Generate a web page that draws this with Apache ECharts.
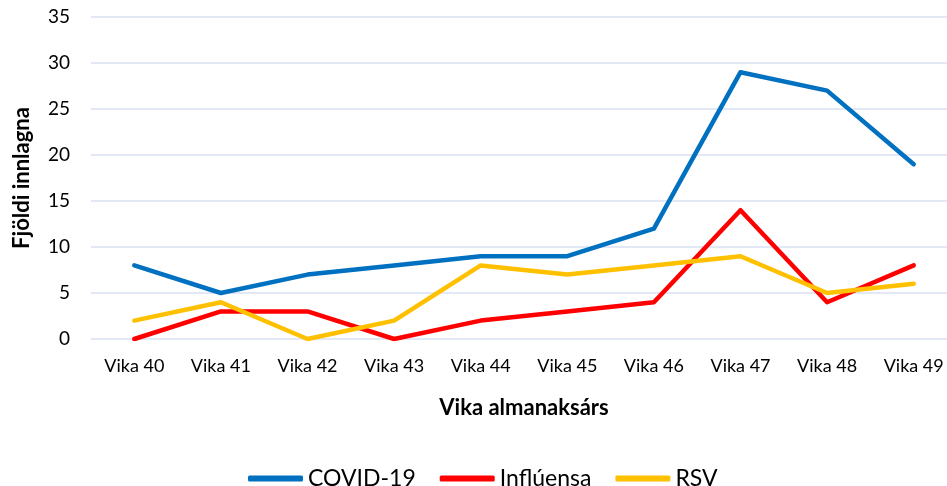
<!DOCTYPE html>
<html><head><meta charset="utf-8">
<script src="https://cdn.jsdelivr.net/npm/echarts@6/dist/echarts.min.js"></script>
<style>html,body{margin:0;padding:0;background:#fff;overflow:hidden;width:947px;height:486px}#c{width:957px;height:486px}</style>
</head><body><div id="c"></div>
<script>
var categories = ['Vika 40','Vika 41','Vika 42','Vika 43','Vika 44','Vika 45','Vika 46','Vika 47','Vika 48','Vika 49'];
var covid = [8,5,7,8,9,9,12,29,27,19];
var influensa = [0,3,3,0,2,3,4,14,4,8];
var rsv = [2,4,0,2,8,7,8,9,5,6];
var seriesNames = ['COVID-19','Inflúensa','RSV'];
var yTicks = {min:0, max:35, interval:5};

var font = 'Lato, "Open Sans", sans-serif';
var chart = echarts.init(document.getElementById('c'));
function mk(name, data, color){
  return {name:name, type:'line', data:data, showSymbol:false, symbol:'none',
    lineStyle:{color:color, width:4.5, cap:'round', join:'round'}, itemStyle:{color:color}, animation:false};
}
chart.setOption({
  animation:false,
  grid:{left:91, right:0, top:17, bottom:147, containLabel:false},
  legend:{top:462, left:243, itemWidth:55, itemHeight:6, itemGap:24, icon:'roundRect',
    textStyle:{fontFamily:font, fontSize:23, color:'#000'}, data:seriesNames},
  xAxis:{type:'category', data:categories, boundaryGap:true,
    axisLine:{show:false}, axisTick:{show:false},
    axisLabel:{fontFamily:font, fontSize:18, color:'#000', margin:18},
    name:'Vika almanaksárs', nameLocation:'middle', nameGap:58,
    nameTextStyle:{fontFamily:font, fontSize:22, fontWeight:'bold', color:'#000'}},
  yAxis:{type:'value', min:yTicks.min, max:yTicks.max, interval:yTicks.interval,
    axisLine:{show:false}, axisTick:{show:false},
    splitLine:{lineStyle:{color:'#D9E1F2', width:1.5}},
    axisLabel:{fontFamily:font, fontSize:19, color:'#000', margin:21},
    name:'Fjöldi innlagna', nameLocation:'middle', nameGap:58, nameRotate:90,
    nameTextStyle:{fontFamily:font, fontSize:22, fontWeight:'bold', color:'#000'}},
  series:[mk(seriesNames[0], covid, '#0070C0'), mk(seriesNames[1], influensa, '#FF0000'), mk(seriesNames[2], rsv, '#FFC000')]
});
</script></body></html>
